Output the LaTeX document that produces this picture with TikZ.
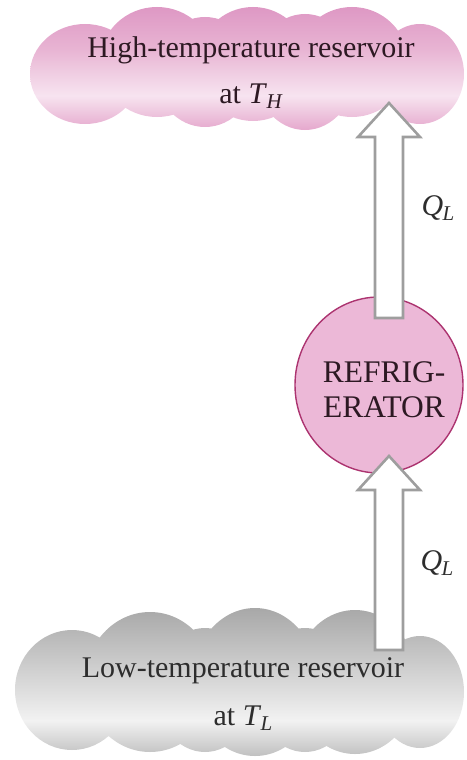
\documentclass[tikz,border=0pt]{standalone}
\usepackage{fontspec}
\setmainfont{Liberation Serif}
\usetikzlibrary{shapes.geometric,calc}
\definecolor{pkT}{RGB}{222,152,196}
\definecolor{pkU}{RGB}{232,180,211}
\definecolor{pkL}{RGB}{247,228,240}
\definecolor{pkB}{RGB}{229,168,205}
\definecolor{gyT}{RGB}{168,168,168}
\definecolor{gyU}{RGB}{202,202,202}
\definecolor{gyL}{RGB}{242,242,242}
\definecolor{gyB}{RGB}{192,192,192}
\definecolor{fridgefill}{RGB}{236,184,215}
\definecolor{fridgeline}{RGB}{172,52,112}
\definecolor{arrowline}{RGB}{158,158,158}
\definecolor{inkpink}{RGB}{45,25,35}
\definecolor{inkgrey}{RGB}{45,45,45}
\pgfdeclareverticalshading{pinkcloud}{100bp}{color(0bp)=(pkB); color(25bp)=(pkB); color(39bp)=(pkL); color(58bp)=(pkU); color(75bp)=(pkT); color(100bp)=(pkT)}
\pgfdeclareverticalshading{greycloud}{100bp}{color(0bp)=(gyB); color(25bp)=(gyB); color(37bp)=(gyL); color(57bp)=(gyU); color(75bp)=(gyT); color(100bp)=(gyT)}
\newcommand\subsym[2]{\textit{#1}\kern-0.5pt\raisebox{-0.38ex}{\fontsize{21pt}{21pt}\selectfont\textit{#2}}}
\tikzset{
  bigtext/.style={font=\rmfamily\fontsize{30pt}{36pt}\selectfont, inner sep=0pt, anchor=base},
  blockarrow/.style={draw=arrowline, fill=white, line width=2.6pt, line join=miter},
  fridgestyle/.style={ellipse, fill=fridgefill, draw=fridgeline, line width=1.4pt,
    minimum width=168pt, minimum height=176pt, inner sep=0pt}
}
\begin{document}
\begin{tikzpicture}[x=1pt,y=-1pt]
\useasboundingbox (0,0) rectangle (466,760);
% high-temperature cloud
\shade[shading=pinkcloud]
  (85,74) ellipse [x radius=55, y radius=50]
  (157,62) ellipse [x radius=57, y radius=55]
  (253,64) ellipse [x radius=56, y radius=57]
  (352,62) ellipse [x radius=56, y radius=55]
  (420,74) ellipse [x radius=44, y radius=50]
  (205,72) ellipse [x radius=50, y radius=55]
  (305,72) ellipse [x radius=50, y radius=58];
% low-temperature cloud
\shade[shading=greycloud]
  (72,690) ellipse [x radius=57, y radius=60]
  (150,682) ellipse [x radius=65, y radius=70]
  (255,682) ellipse [x radius=63, y radius=74]
  (355,682) ellipse [x radius=62, y radius=72]
  (420,692) ellipse [x radius=44, y radius=56]
  (205,690) ellipse [x radius=50, y radius=62]
  (305,690) ellipse [x radius=50, y radius=62];
% refrigerator
\node[fridgestyle] (fridge) at (379,385) {};
\node[inner sep=0pt, anchor=center, align=center, text=inkpink,
  font=\rmfamily\fontsize{31.5pt}{35pt}\selectfont] (fridgetext) at (384,390) {REFRIG-\\ERATOR};
% connector coordinates
\coordinate (ubot) at (389,318);
\coordinate (uhead) at (389,137);
\coordinate (utip) at (389,103);
\coordinate (lbot) at (389,650);
\coordinate (lhead) at (389,490);
\coordinate (ltip) at (389,456);
% upper arrow (refrigerator -> high-temperature reservoir)
\draw[blockarrow] ($(ubot)+(-14,0)$) -- ($(uhead)+(-14,0)$) -- ($(uhead)+(-31,0)$)
  -- (utip) -- ($(uhead)+(31,0)$) -- ($(uhead)+(14,0)$) -- ($(ubot)+(14,0)$) -- cycle;
% lower arrow (low-temperature reservoir -> refrigerator)
\draw[blockarrow] ($(lbot)+(-14,0)$) -- ($(lhead)+(-14,0)$) -- ($(lhead)+(-31,0)$)
  -- (ltip) -- ($(lhead)+(31,0)$) -- ($(lhead)+(14,0)$) -- ($(lbot)+(14,0)$) -- cycle;
% texts
\node[bigtext, text=inkpink] (hi1) at (251,58) {High-temperature reservoir};
\node[bigtext, text=inkpink] (hi2) at (251,103) {at \subsym{T}{H}};
\node[bigtext, text=inkgrey] (lo1) at (243,677) {Low-temperature reservoir};
\node[bigtext, text=inkgrey] (lo2) at (243,725) {at \subsym{T}{L}};
\node[bigtext, text=inkgrey, anchor=center] (q1) at (438,208) {\subsym{Q}{L}};
\node[bigtext, text=inkgrey, anchor=center] (q2) at (437,563) {\subsym{Q}{L}};
\end{tikzpicture}
\end{document}
